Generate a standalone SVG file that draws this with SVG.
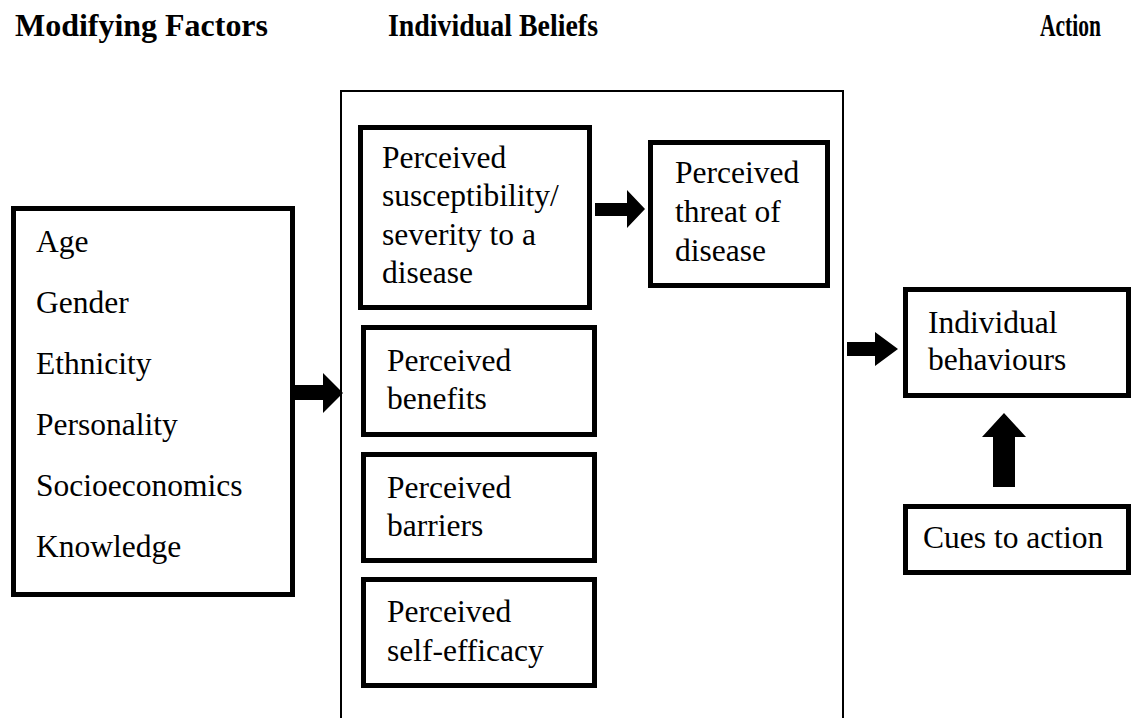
<svg xmlns="http://www.w3.org/2000/svg" width="1136" height="718" viewBox="0 0 1136 718">
<style>
.h{font-family:"Liberation Serif","Times New Roman",serif;font-weight:bold;font-size:31px;fill:#000}
.t{font-family:"Liberation Serif","Times New Roman",serif;font-size:31.5px;fill:#000}
.box{fill:#fff;stroke:#000;stroke-width:5}
.frame{fill:none;stroke:#000;stroke-width:2}
.arr{fill:#000}
</style>
<rect width="1136" height="718" fill="#fff"/>
<g id="headings">
<text class="h" x="15" y="36" textLength="253" lengthAdjust="spacingAndGlyphs">Modifying Factors</text>
<text class="h" x="388" y="36" textLength="210" lengthAdjust="spacingAndGlyphs">Individual Beliefs</text>
<text class="h" x="1040" y="36" textLength="61" lengthAdjust="spacingAndGlyphs">Action</text>
</g>
<g id="beliefs-frame">
<path class="frame" d="M341,720 V91 H843 V720"/>
</g>
<g id="modifying">
<rect class="box" x="13.5" y="208.5" width="279" height="386"/>
<text class="t" x="36" y="252">Age</text>
<text class="t" x="36" y="313">Gender</text>
<text class="t" x="36" y="374">Ethnicity</text>
<text class="t" x="36" y="435">Personality</text>
<text class="t" x="36" y="496">Socioeconomics</text>
<text class="t" x="36" y="557">Knowledge</text>
</g>
<g id="susceptibility">
<rect class="box" x="360.5" y="127.5" width="229" height="180"/>
<text class="t" x="382" y="168">Perceived</text>
<text class="t" x="382" y="206">susceptibility/</text>
<text class="t" x="382" y="245">severity to a</text>
<text class="t" x="382" y="283">disease</text>
</g>
<g id="threat">
<rect class="box" x="650.5" y="142.5" width="177" height="143"/>
<text class="t" x="675" y="183">Perceived</text>
<text class="t" x="675" y="222">threat of</text>
<text class="t" x="675" y="261">disease</text>
</g>
<g id="benefits">
<rect class="box" x="363.5" y="327.5" width="231" height="107"/>
<text class="t" x="387" y="371">Perceived</text>
<text class="t" x="387" y="409">benefits</text>
</g>
<g id="barriers">
<rect class="box" x="363.5" y="454.5" width="231" height="106"/>
<text class="t" x="387" y="498">Perceived</text>
<text class="t" x="387" y="536">barriers</text>
</g>
<g id="self-efficacy">
<rect class="box" x="363.5" y="579.5" width="231" height="106"/>
<text class="t" x="387" y="622">Perceived</text>
<text class="t" x="387" y="661">self-efficacy</text>
</g>
<g id="behaviours">
<rect class="box" x="905.5" y="289.5" width="223" height="106"/>
<text class="t" x="928" y="333">Individual</text>
<text class="t" x="928" y="370">behaviours</text>
</g>
<g id="cues">
<rect class="box" x="905.5" y="506.5" width="223" height="66"/>
<text class="t" x="923" y="548">Cues to action</text>
</g>
<g id="connectors">
<polygon class="arr" points="295,385 323,385 323,373 343,393 323,413 323,400 295,400"/>
<polygon class="arr" points="595,203 627,203 627,190 645,209 627,228 627,216 595,216"/>
<polygon class="arr" points="847,342 875,342 875,332 898,349 875,366 875,356 847,356"/>
<polygon class="arr" points="993,487 993,437 982,437 1004,413 1026,437 1015,437 1015,487"/>
</g>
</svg>
